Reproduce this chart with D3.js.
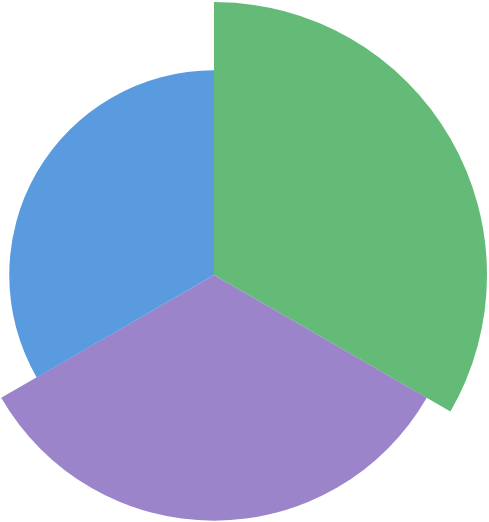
<!DOCTYPE html>
<html>
<head>
<meta charset="utf-8">
<script src="https://cdn.jsdelivr.net/npm/d3@7"></script>
<style>
html,body{margin:0;padding:0;background:#fff;}
svg{display:block;}
</style>
</head>
<body>
<svg id="chart" width="489" height="522"></svg>
<script>
const categories = ["A", "B", "C"];
const values = [100, 90, 75];
const colors = ["#63bb77", "#9b84ca", "#5a9be0"];

const svg = d3.select("#chart");
const cx = 214, cy = 275;
const r = d3.scaleLinear().domain([0, 100]).range([0, 273]);
const angle = d3.scaleBand().domain(categories).range([0, 2 * Math.PI]).paddingInner(0).paddingOuter(0);

const g = svg.append("g").attr("transform", `translate(${cx},${cy})`);
const arc = d3.arc()
  .innerRadius(0)
  .outerRadius((d, i) => r(values[i]))
  .startAngle(d => angle(d))
  .endAngle(d => angle(d) + angle.bandwidth());

g.selectAll("path")
  .data(categories)
  .join("path")
  .attr("d", (d, i) => arc(d, i))
  .attr("fill", (d, i) => colors[i]);
</script>
</body>
</html>
